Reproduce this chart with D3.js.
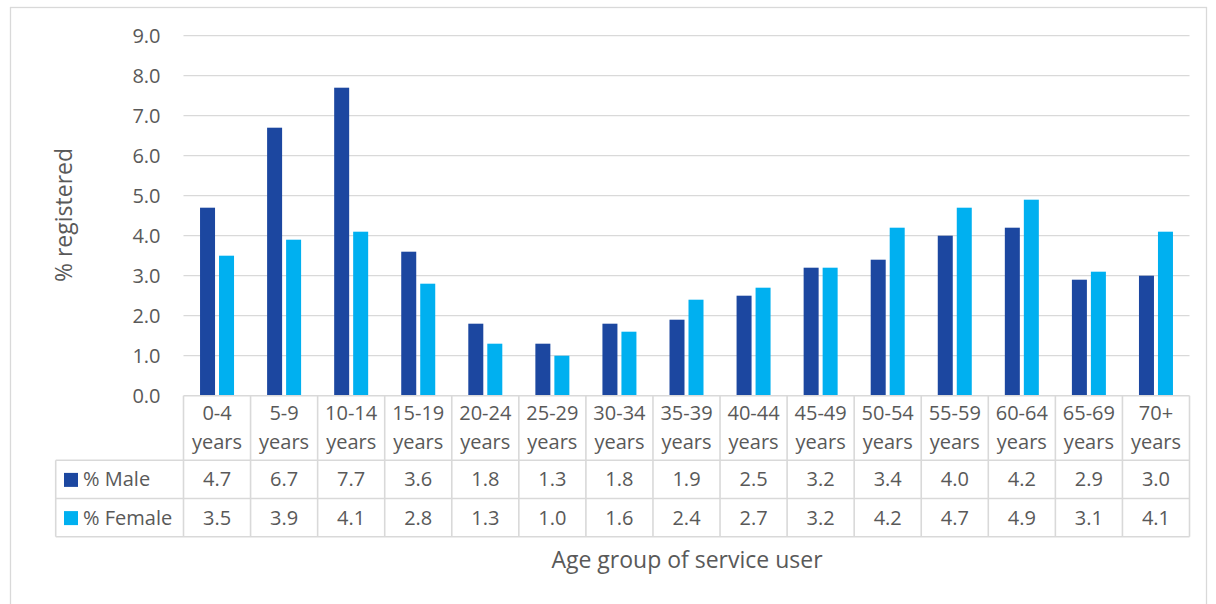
<!DOCTYPE html>
<html>
<head>
<meta charset="utf-8">
<script src="https://cdn.jsdelivr.net/npm/d3@7"></script>
<style>
  html, body { margin: 0; padding: 0; background: #fff; }
  svg { display: block; font-family: "Open Sans", "DejaVu Sans", sans-serif; }
</style>
</head>
<body>
<svg id="chart" width="1216" height="604"></svg>
<script>
// Registration rates by age group and sex
const categories = ["0-4", "5-9", "10-14", "15-19", "20-24", "25-29", "30-34", "35-39",
                    "40-44", "45-49", "50-54", "55-59", "60-64", "65-69", "70+"];
const maleValues   = [4.7, 6.7, 7.7, 3.6, 1.8, 1.3, 1.8, 1.9, 2.5, 3.2, 3.4, 4.0, 4.2, 2.9, 3.0];
const femaleValues = [3.5, 3.9, 4.1, 2.8, 1.3, 1.0, 1.6, 2.4, 2.7, 3.2, 4.2, 4.7, 4.9, 3.1, 4.1];
const seriesNames  = ["% Male", "% Female"];
const yTicks       = [0, 1, 2, 3, 4, 5, 6, 7, 8, 9];

const colors = ["#1c47a0", "#00b0f0"];
const textColor = "#595959";
const lineColor = "#d9d9d9";
const fs = "20px";

const svg = d3.select("#chart");

// outer chart frame
svg.append("rect")
  .attr("x", 10.5).attr("y", 7.5)
  .attr("width", 1196).attr("height", 620)
  .attr("fill", "none").attr("stroke", lineColor).attr("stroke-width", 1.3);

const plot = { left: 183.5, right: 1189.5, top: 35.7, bottom: 395.7 };

const x = d3.scaleBand().domain(categories).range([plot.left, plot.right]);
const y = d3.scaleLinear().domain([0, 9]).range([plot.bottom, plot.top]);

// gridlines
svg.append("g")
  .selectAll("line")
  .data(yTicks.filter(d => d > 0))
  .join("line")
  .attr("x1", plot.left).attr("x2", plot.right)
  .attr("y1", d => y(d)).attr("y2", d => y(d))
  .attr("stroke", lineColor).attr("stroke-width", 1.3);

// y tick labels
const yAxis = d3.axisLeft(y).tickValues(yTicks).tickFormat(d3.format(".1f")).tickSize(0).tickPadding(23);
const yG = svg.append("g").attr("transform", `translate(${plot.left},0)`).call(yAxis);
yG.select(".domain").remove();
yG.selectAll("text")
  .attr("fill", textColor)
  .style("font-size", fs)
  .style("font-family", "'Open Sans', sans-serif");

// bars
const barW = 15, gap = 4;
const series = [maleValues, femaleValues];
series.forEach((vals, si) => {
  svg.append("g")
    .selectAll("rect")
    .data(vals.map((v, i) => ({ cat: categories[i], v })))
    .join("rect")
    .attr("x", d => x(d.cat) + x.bandwidth() / 2 - barW - gap / 2 + si * (barW + gap))
    .attr("y", d => y(d.v))
    .attr("width", barW)
    .attr("height", d => y(0) - y(d.v))
    .attr("fill", colors[si]);
});

// data table
const table = { left: 55.7, headBottom: 460.3, rowH: 38.2 };
const rowBottoms = [table.headBottom + table.rowH, table.headBottom + 2 * table.rowH];
const tg = svg.append("g");
const stroke = (sel) => sel.attr("stroke", lineColor).attr("stroke-width", 1.6);

// horizontal lines
tg.append("line").attr("x1", plot.left).attr("x2", plot.right)
  .attr("y1", plot.bottom).attr("y2", plot.bottom).call(stroke);
[table.headBottom, ...rowBottoms].forEach(yy => {
  tg.append("line").attr("x1", table.left).attr("x2", plot.right)
    .attr("y1", yy).attr("y2", yy).call(stroke);
});
// vertical lines
const colEdges = categories.map(c => x(c)).concat([plot.right]);
colEdges.forEach(xx => {
  tg.append("line").attr("x1", xx).attr("x2", xx)
    .attr("y1", plot.bottom).attr("y2", rowBottoms[1]).call(stroke);
});
tg.append("line").attr("x1", table.left).attr("x2", table.left)
  .attr("y1", table.headBottom).attr("y2", rowBottoms[1]).call(stroke);

// category header text
const head = tg.append("g").selectAll("text").data(categories).join("text")
  .attr("x", d => x(d) + x.bandwidth() / 2)
  .attr("text-anchor", "middle")
  .attr("fill", textColor)
  .style("font-size", fs);
head.append("tspan").attr("x", d => x(d) + x.bandwidth() / 2).attr("y", 420).text(d => d);
head.append("tspan").attr("x", d => x(d) + x.bandwidth() / 2).attr("y", 449).text("years");

// value rows
series.forEach((vals, si) => {
  const cy = table.headBottom + table.rowH * si + table.rowH / 2 + 7;
  tg.append("g").selectAll("text").data(vals).join("text")
    .attr("x", (d, i) => x(categories[i]) + x.bandwidth() / 2)
    .attr("y", cy)
    .attr("text-anchor", "middle")
    .attr("fill", textColor)
    .style("font-size", fs)
    .text(d => d3.format(".1f")(d));
  // legend key and series name
  tg.append("rect")
    .attr("x", 64).attr("y", cy - 13.5)
    .attr("width", 14).attr("height", 14)
    .attr("fill", colors[si]);
  tg.append("text")
    .attr("x", 83).attr("y", cy)
    .attr("fill", textColor)
    .style("font-size", fs)
    .text(seriesNames[si]);
});

// axis titles
svg.append("text")
  .attr("x", 687).attr("y", 568)
  .attr("text-anchor", "middle")
  .attr("fill", textColor)
  .style("font-size", "23px")
  .text("Age group of service user");

svg.append("text")
  .attr("transform", "translate(72,215) rotate(-90)")
  .attr("text-anchor", "middle")
  .attr("fill", textColor)
  .style("font-size", "23px")
  .text("% registered");
</script>
</body>
</html>
